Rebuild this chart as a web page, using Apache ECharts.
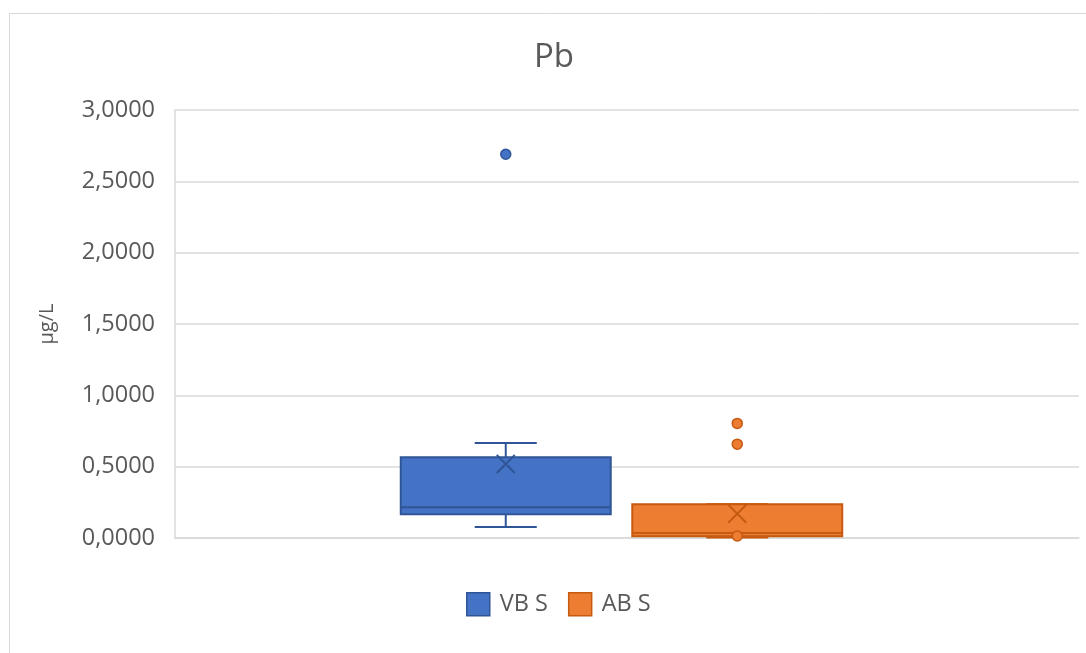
<!DOCTYPE html>
<html>
<head>
<meta charset="utf-8">
<title>Pb</title>
<script src="https://cdn.jsdelivr.net/npm/echarts@6/dist/echarts.min.js"></script>
<style>
  html, body { margin: 0; padding: 0; background: #ffffff; }
  #chart { width: 1086px; height: 653px; }
</style>
</head>
<body>
<div id="chart"></div>
<script>
// Sample groups
const groups = ['VB S', 'AB S'];

// Five-number summaries: min, Q1, median, Q3, max (µg/L)
const vbStats = [0.077, 0.166, 0.215, 0.566, 0.666];
const abStats = [0.004, 0.012, 0.035, 0.236, 0.236];

// Means (µg/L)
const vbMean = 0.519;
const abMean = 0.170;

// Outlying points (µg/L)
const vbOutliers = [2.69];
const abOutliers = [0.803, 0.658, 0.014];

// Value axis
const yMin = 0;
const yMax = 3;
const yStep = 0.5;

const FONT = '"Open Sans", "Liberation Sans", sans-serif';
const TEXT = '#595959';
const GRID_LINE = '#d9d9d9';

const palette = {
  'VB S': { fill: '#4472C4', edge: '#2F5597' },
  'AB S': { fill: '#ED7D31', edge: '#C55A11' }
};

// Box body and whisker cap widths, as a share of a category band
const BOX_SHARE = 0.907;
const CAP_SHARE = 0.268;

function renderBox(params, api) {
  const cat = api.value(0);
  const pt = v => api.coord([cat, v]);
  const cx = pt(api.value(1))[0];
  const yLo = pt(api.value(1))[1];
  const yQ1 = pt(api.value(2))[1];
  const yMed = pt(api.value(3))[1];
  const yQ3 = pt(api.value(4))[1];
  const yHi = pt(api.value(5))[1];
  const band = api.size([1, 0])[0];
  const half = band * BOX_SHARE / 2;
  const cap = band * CAP_SHARE / 2;
  const c = palette[params.seriesName];
  const lineStyle = { stroke: c.edge, lineWidth: 2, fill: null };
  return {
    type: 'group',
    children: [
      { type: 'line', shape: { x1: cx, y1: yHi, x2: cx, y2: yQ3 }, style: lineStyle },
      { type: 'line', shape: { x1: cx, y1: yQ1, x2: cx, y2: yLo }, style: lineStyle },
      { type: 'line', shape: { x1: cx - cap, y1: yHi, x2: cx + cap, y2: yHi }, style: lineStyle },
      { type: 'line', shape: { x1: cx - cap, y1: yLo, x2: cx + cap, y2: yLo }, style: lineStyle },
      { type: 'rect', shape: { x: cx - half, y: yQ3, width: half * 2, height: yQ1 - yQ3 },
        style: { fill: c.fill, stroke: c.edge, lineWidth: 2 } },
      { type: 'line', shape: { x1: cx - half, y1: yMed, x2: cx + half, y2: yMed }, style: lineStyle }
    ]
  };
}

function boxSeries(name, idx, stats) {
  return {
    name: name,
    type: 'custom',
    xAxisIndex: 1,
    yAxisIndex: 1,
    z: 2,
    renderItem: renderBox,
    encode: { x: 0, y: [1, 2, 3, 4, 5] },
    data: [[idx].concat(stats)]
  };
}

function pointSeries(name, idx, values) {
  const c = palette[name];
  return {
    name: name,
    type: 'scatter',
    xAxisIndex: 1,
    yAxisIndex: 1,
    z: 4,
    symbol: 'circle',
    symbolSize: 10,
    itemStyle: { color: c.fill, borderColor: c.edge, borderWidth: 1.5, opacity: 1 },
    data: values.map(v => [idx, v])
  };
}

function meanSeries(name, idx, mean) {
  const c = palette[name];
  return {
    name: name,
    type: 'scatter',
    xAxisIndex: 1,
    yAxisIndex: 1,
    z: 3,
    symbol: 'path://M0,0L10,10M10,0L0,10',
    symbolSize: 18,
    itemStyle: { color: 'rgba(0,0,0,0)', borderColor: c.edge, borderWidth: 2, opacity: 1 },
    data: [[idx, mean]]
  };
}

const chart = echarts.init(document.getElementById('chart'), null, { renderer: 'canvas' });

chart.setOption({
  backgroundColor: '#ffffff',
  animation: false,
  textStyle: { fontFamily: FONT },
  title: {
    text: 'Pb',
    left: 549,
    textAlign: 'center',
    top: 36,
    textStyle: { fontFamily: FONT, fontSize: 33, fontWeight: 'normal', color: TEXT }
  },
  legend: {
    left: 466,
    top: 592,
    padding: 0,
    itemWidth: 23,
    itemHeight: 23,
    itemGap: 20,
    textStyle: { fontFamily: FONT, fontSize: 23.5, color: TEXT, padding: [0, 0, 0, 5] },
    data: groups.map(g => ({
      name: g,
      icon: 'rect',
      itemStyle: { color: palette[g].fill, borderColor: palette[g].edge, borderWidth: 1.5 }
    }))
  },
  graphic: [{
    type: 'rect',
    shape: { x: 9.5, y: 13.5, width: 1100, height: 700 },
    style: { fill: null, stroke: GRID_LINE, lineWidth: 1 },
    silent: true,
    z: -10
  }],
  grid: [
    { left: 175, right: 7, top: 110, bottom: 115 },
    { left: 390, width: 463, top: 110, bottom: 115 }
  ],
  xAxis: [
    {
      type: 'category',
      gridIndex: 0,
      data: [''],
      axisLine: { show: true, lineStyle: { color: GRID_LINE, width: 1.5 } },
      axisTick: { show: false },
      axisLabel: { show: false },
      splitLine: { show: false }
    },
    {
      type: 'category',
      gridIndex: 1,
      data: groups,
      show: false
    }
  ],
  yAxis: [
    {
      type: 'value',
      gridIndex: 0,
      min: yMin,
      max: yMax,
      interval: yStep,
      name: 'µg/L',
      nameLocation: 'middle',
      nameRotate: 90,
      nameGap: 118,
      nameTextStyle: { fontFamily: FONT, fontSize: 20, color: TEXT },
      axisLine: { show: true, lineStyle: { color: GRID_LINE, width: 1.5 } },
      axisTick: { show: false },
      axisLabel: {
        margin: 20,
        fontFamily: FONT,
        fontSize: 23.5,
        color: TEXT,
        formatter: v => v.toFixed(4).replace('.', ',')
      },
      splitLine: { show: true, lineStyle: { color: GRID_LINE, width: 1.5 } }
    },
    {
      type: 'value',
      gridIndex: 1,
      min: yMin,
      max: yMax,
      interval: yStep,
      show: false,
      splitLine: { show: false }
    }
  ],
  series: [
    boxSeries('VB S', 0, vbStats),
    boxSeries('AB S', 1, abStats),
    meanSeries('VB S', 0, vbMean),
    meanSeries('AB S', 1, abMean),
    pointSeries('VB S', 0, vbOutliers),
    pointSeries('AB S', 1, abOutliers)
  ]
});
</script>
</body>
</html>
